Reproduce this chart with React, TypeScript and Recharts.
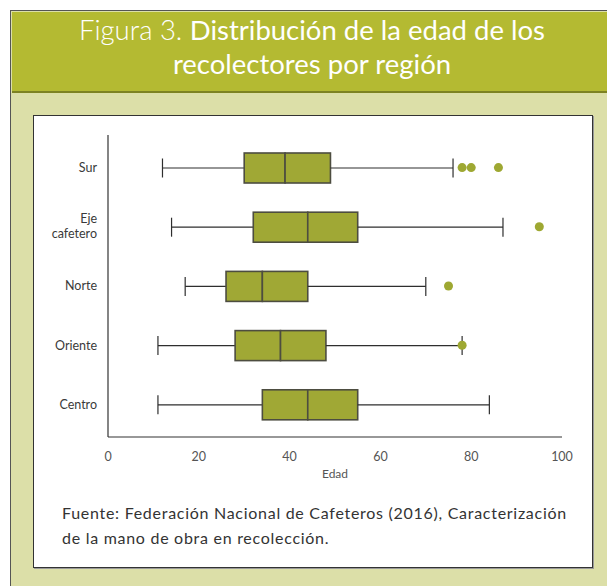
import React from 'react';
import { ComposedChart, Bar, Scatter, XAxis, YAxis } from 'recharts';

const regions = ['Sur', 'Eje cafetero', 'Norte', 'Oriente', 'Centro'];
const mins = [12, 14, 17, 11, 11];
const q1s = [30, 32, 26, 28, 34];
const medians = [39, 44, 34, 38, 44];
const q3s = [49, 55, 44, 48, 55];
const maxs = [76, 87, 70, 78, 84];
const outlierRegions = ['Sur', 'Sur', 'Sur', 'Eje cafetero', 'Norte', 'Oriente'];
const outlierAges = [78, 80, 86, 95, 75, 78];
const xTicks = [0, 20, 40, 60, 80, 100];

const data = regions.map((region, i) => ({
  region,
  base: mins[i],
  wlo: q1s[i] - mins[i],
  blo: medians[i] - q1s[i],
  bhi: q3s[i] - medians[i],
  whi: maxs[i] - q3s[i],
}));

const outliers = outlierRegions.map((region, i) => ({ region, age: outlierAges[i] }));

const FONT = 'Lato, "Noto Sans", sans-serif';
const BOX_FILL = '#a0a835';
const BOX_STROKE = '#4d4d40';
const LINE = '#2e2e2e';
const CAP = 9.5;

const WhiskerLow = (p: any) => {
  const { x, y, width, height } = p;
  const cy = y + height / 2;
  return (
    <g>
      <line x1={x} x2={x + width} y1={cy} y2={cy} stroke={LINE} strokeWidth={1.2} />
      <line x1={x} x2={x} y1={cy - CAP} y2={cy + CAP} stroke={LINE} strokeWidth={1.2} />
    </g>
  );
};

const WhiskerHigh = (p: any) => {
  const { x, y, width, height } = p;
  const cy = y + height / 2;
  return (
    <g>
      <line x1={x} x2={x + width} y1={cy} y2={cy} stroke={LINE} strokeWidth={1.2} />
      <line x1={x + width} x2={x + width} y1={cy - CAP} y2={cy + CAP} stroke={LINE} strokeWidth={1.2} />
    </g>
  );
};

const BoxPart = (p: any) => {
  const { x, y, width, height } = p;
  return <rect x={x} y={y} width={width} height={height} fill={BOX_FILL} stroke={BOX_STROKE} strokeWidth={1.6} />;
};

const Empty = () => <g />;

const YTick = (p: any) => {
  const { x, y, payload } = p;
  const label: string = payload.value;
  const style = { fontFamily: FONT, fontSize: 12.5, fill: '#3a3a3a' };
  if (label === 'Eje cafetero') {
    return (
      <g>
        <text x={x} y={y - 3.5} textAnchor="end" style={style}>Eje</text>
        <text x={x} y={y + 11.5} textAnchor="end" style={style}>cafetero</text>
      </g>
    );
  }
  return (
    <text x={x} y={y + 4.3} textAnchor="end" style={style}>{label}</text>
  );
};

export default function App() {
  return (
    <div style={{ position: 'absolute', left: 0, top: 0, width: 607, height: 586, background: '#fff', overflow: 'hidden', fontFamily: FONT }}>
      {/* outer frame */}
      <div style={{ position: 'absolute', left: 10, top: 10, width: 620, height: 600, background: '#dcdfa8', borderLeft: '1.5px solid #555', borderTop: '1.5px solid #555' }} />
      {/* title band */}
      <div style={{ position: 'absolute', left: 11.5, top: 11.5, width: 620, height: 79, background: '#b4ba32', borderBottom: '2px solid #7d8222' }} />
      <div style={{ position: 'absolute', left: 11, top: 13, width: 602, textAlign: 'center', color: '#fff', fontSize: 27.5, lineHeight: '34px' }}>
        <div><span style={{ fontWeight: 300 }}>Figura 3. </span><span style={{ fontWeight: 400 }}>Distribución de la edad de los</span></div>
        <div style={{ fontWeight: 400 }}>recolectores por región</div>
      </div>
      {/* white box */}
      <div style={{ position: 'absolute', left: 33, top: 115, width: 558, height: 451, background: '#fff', border: '1.5px solid #333', boxShadow: '1px 1px 0 #999' }} />
      <div style={{ position: 'absolute', left: 33, top: 115 }}>
        <ComposedChart
          width={560}
          height={453}
          data={data}
          layout="vertical"
          margin={{ top: 20, right: 31, bottom: 91, left: 0 }}
          barCategoryGap={0}
        >
          <XAxis
            type="number"
            domain={[0, 100]}
            ticks={xTicks}
            allowDataOverflow
            height={40}
            axisLine={{ stroke: '#333', strokeWidth: 1.2 }}
            tickLine={false}
            tickSize={13}
            tick={{ fontFamily: FONT, fontSize: 12.5, fill: '#555' }}
          />
          <YAxis
            type="category"
            dataKey="region"
            width={75}
            allowDuplicatedCategory={false}
            padding={{ top: 3, bottom: 3 }}
            axisLine={{ stroke: '#333', strokeWidth: 1.2 }}
            tickLine={false}
            tickSize={9}
            tick={<YTick />}
            interval={0}
          />
          <Bar dataKey="base" stackId="a" barSize={30} shape={<Empty />} isAnimationActive={false} />
          <Bar dataKey="wlo" stackId="a" barSize={30} shape={<WhiskerLow />} isAnimationActive={false} />
          <Bar dataKey="blo" stackId="a" barSize={30} shape={<BoxPart />} isAnimationActive={false} />
          <Bar dataKey="bhi" stackId="a" barSize={30} shape={<BoxPart />} isAnimationActive={false} />
          <Bar dataKey="whi" stackId="a" barSize={30} shape={<WhiskerHigh />} isAnimationActive={false} />
          <Scatter data={outliers} dataKey="age" fill="#9ea832" isAnimationActive={false} />
        </ComposedChart>
      </div>
      <div style={{ position: 'absolute', left: 310, top: 466, width: 50, textAlign: 'center', fontSize: 12, color: '#555' }}>Edad</div>
      <div style={{ position: 'absolute', left: 62, top: 500, width: 540, fontSize: 16, letterSpacing: 0.72, lineHeight: '25px', color: '#333', whiteSpace: 'nowrap' }}>
        <div>Fuente: Federación Nacional de Cafeteros (2016), Caracterización</div>
        <div>de la mano de obra en recolección.</div>
      </div>
    </div>
  );
}
